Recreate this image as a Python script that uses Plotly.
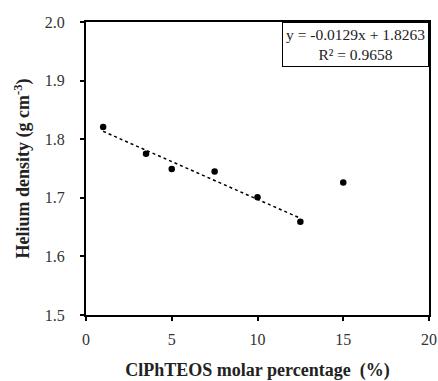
import plotly.graph_objects as go

x_vals = [1, 3.5, 5, 7.5, 10, 12.5, 15]
y_vals = [1.821, 1.775, 1.749, 1.745, 1.701, 1.659, 1.726]
trend_x = [1, 12.5]
trend_y = [1.8134, 1.6651]
eq_text = "y = -0.0129x + 1.8263<br>R² = 0.9658"
x_ticks = [0, 5, 10, 15, 20]
y_ticks = [1.5, 1.6, 1.7, 1.8, 1.9, 2.0]

FONT = "Liberation Serif"

fig = go.Figure()
fig.add_trace(go.Scatter(x=trend_x, y=trend_y, mode="lines",
                         line=dict(color="black", width=1.5, dash="dot"),
                         showlegend=False, hoverinfo="skip"))
fig.add_trace(go.Scatter(x=x_vals, y=y_vals, mode="markers",
                         marker=dict(color="black", size=6.5),
                         showlegend=False))

fig.update_layout(
    width=438, height=381,
    margin=dict(l=86, r=9, t=22, b=66),
    plot_bgcolor="white", paper_bgcolor="white",
    font=dict(family=FONT, size=16, color="#333333"),
    xaxis=dict(range=[0, 20], tickvals=x_ticks, ticktext=[str(v) for v in x_ticks],
               showgrid=False, zeroline=False, showline=True, linecolor="black",
               linewidth=2, mirror=True, ticks="outside", ticklen=4, tickwidth=1.5,
               tickcolor="black", tickfont=dict(size=16), ticklabelstandoff=5,
               automargin=False,
               title=dict(text="<b>ClPhTEOS molar percentage  (%)</b>",
                          font=dict(family=FONT, size=18, color="#222222"), standoff=20)),
    yaxis=dict(range=[1.5, 2.0], tickvals=y_ticks,
               ticktext=[f"{v:.1f}" + "\u00a0\u00a0\u00a0" for v in y_ticks],
               showgrid=False, zeroline=False, showline=True, linecolor="black",
               linewidth=2, mirror=True, ticks="outside", ticklen=4, tickwidth=1.5,
               tickcolor="black", tickfont=dict(size=16),
               automargin=False,
               title=dict(text="<b>Helium density (g cm<sup>-3</sup>)</b>",
                          font=dict(family=FONT, size=18, color="#222222"), standoff=10)),
)

fig.add_annotation(xref="paper", yref="paper", x=1, y=1, xanchor="right", yanchor="top",
                   text=eq_text, showarrow=False, align="center",
                   font=dict(family=FONT, size=15.5, color="#222222"),
                   bordercolor="black", borderwidth=1, borderpad=3, bgcolor="white")

fig.write_html("out.html")
